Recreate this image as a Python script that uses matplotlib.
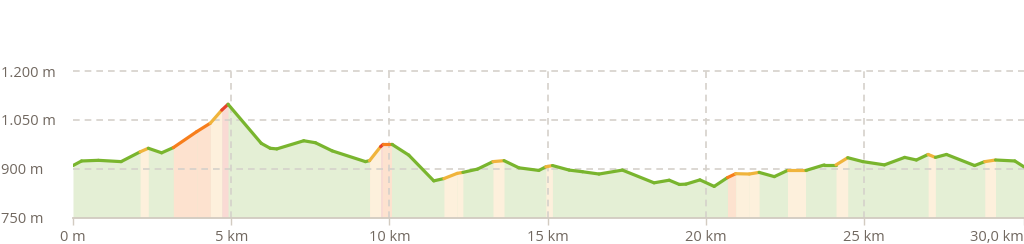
import matplotlib
matplotlib.use("Agg")
import matplotlib.pyplot as plt
from matplotlib.collections import LineCollection
import numpy as np

# ---- data -------------------------------------------------------------
distance_km = [0.0, 0.27, 0.8, 1.52, 2.12, 2.38, 2.8, 3.17, 3.91, 4.34,
               4.7, 4.9, 5.95, 6.23, 6.44, 7.29, 7.66, 8.19, 9.24, 9.37,
               9.72, 9.8, 10.08, 10.61, 11.4, 11.72, 12.14, 12.32, 12.78, 13.27,
               13.62, 14.09, 14.72, 14.94, 15.15, 15.68, 16.1, 16.62, 17.36, 18.36,
               18.84, 19.16, 19.37, 19.81, 20.26, 20.68, 20.94, 21.37, 21.68, 22.16,
               22.58, 23.16, 23.74, 24.11, 24.48, 24.96, 25.64, 26.28, 26.65, 27.02,
               27.25, 27.6, 28.49, 28.81, 29.15, 29.76, 30.05]
elevation_m = [910, 924, 926, 922, 952, 963, 949, 965, 1014, 1040,
               1080, 1098, 978, 963, 961, 986, 980, 955, 922, 925,
               968, 975, 975, 942, 863, 870, 886, 889, 899, 922,
               925, 903, 895, 906, 910, 896, 891, 884, 896, 857,
               865, 852, 853, 866, 846, 873, 885, 884, 889, 876,
               895, 895, 912, 912, 934, 922, 912, 935, 927, 944,
               935, 944, 910, 922, 927, 924, 906]
# grade class of each segment (0 flat, 1 moderate, 2 steep, 3 very steep)
segment_grade = [0, 0, 0, 0, 1, 0, 0, 2, 2, 1,
                 3, 0, 0, 0, 0, 0, 0, 0, 0, 1,
                 3, 2, 0, 0, 0, 1, 1, 0, 0, 1,
                 0, 0, 0, 1, 0, 0, 0, 0, 0, 0,
                 0, 0, 0, 0, 0, 2, 1, 1, 0, 0,
                 1, 0, 0, 1, 0, 0, 0, 0, 0, 1,
                 0, 0, 0, 1, 0, 0]
x_tick_values = [0, 5, 10, 15, 20, 25, 30.05]
x_tick_labels = ["0 m", "5 km", "10 km", "15 km", "20 km", "25 km", "30,0 km"]
y_tick_values = [750, 900, 1050, 1200]
y_tick_labels = ["750 m", "900 m", "1.050 m", "1.200 m"]

# ---- style ------------------------------------------------------------
line_colors = ["#79b52e", "#f0b43c", "#f77e1c", "#e6422b"]
fill_colors = ["#e4efd5", "#fdf0dc", "#fde2cf", "#f9dad4"]
text_color = "#716860"
grid_color = "#d5d1cb"
axis_color = "#d2cbc1"
plt.rcParams['font.family'] = ['Open Sans', 'DejaVu Sans']

fig = plt.figure(figsize=(10.24, 2.44), dpi=100)
ax = fig.add_axes([73 / 1024, (244 - 217.7) / 244, (1024 - 73) / 1024, (217.7 - 71) / 244])
ymin, ymax = 750, 1200
ax.set_xlim(0, distance_km[-1])
ax.set_ylim(ymin, ymax)

x = np.array(distance_km, dtype=float)
y = np.array(elevation_m, dtype=float)

# base fill
ax.fill_between(x, y, ymin, color=fill_colors[0], linewidth=0, zorder=0.2)
# coloured fills for graded segments
for i, g in enumerate(segment_grade):
    if g:
        ax.fill_between(x[i:i + 2], y[i:i + 2], ymin, color=fill_colors[g],
                        linewidth=0, zorder=0.3)

# grid
for v in y_tick_values[1:]:
    ax.axhline(v, color=grid_color, lw=1.2, ls=(0, (4, 3)), zorder=0.6, clip_on=False)
for v in x_tick_values[1:-1]:
    ax.axvline(v, color=grid_color, lw=1.2, ls=(0, (4, 3)), zorder=0.6)

# profile line
segs = [[(x[i], y[i]), (x[i + 1], y[i + 1])] for i in range(len(x) - 1)]
lc = LineCollection(segs, colors=[line_colors[g] for g in segment_grade],
                    linewidths=2.3, capstyle='round', joinstyle='round', zorder=3)
ax.add_collection(lc)

# axes styling
for s in ["top", "right", "left"]:
    ax.spines[s].set_visible(False)
ax.spines["bottom"].set_color(axis_color)
ax.spines["bottom"].set_linewidth(1.3)
ax.set_xticks(x_tick_values)
ax.set_xticklabels(x_tick_labels)
ax.set_yticks(y_tick_values)
ax.set_yticklabels(y_tick_labels)
ax.tick_params(axis='x', length=5, width=1, color=axis_color, colors=text_color,
               labelsize=10.5, pad=3.5)
ax.tick_params(axis='y', length=0, colors=text_color, labelsize=10.5, pad=52)
for lab in ax.get_yticklabels():
    lab.set_horizontalalignment('left')
xl = ax.get_xticklabels()
xl[-1].set_horizontalalignment('right')
for lab in xl:
    lab.set_color(text_color)

fig.savefig("out.png", dpi=100)
